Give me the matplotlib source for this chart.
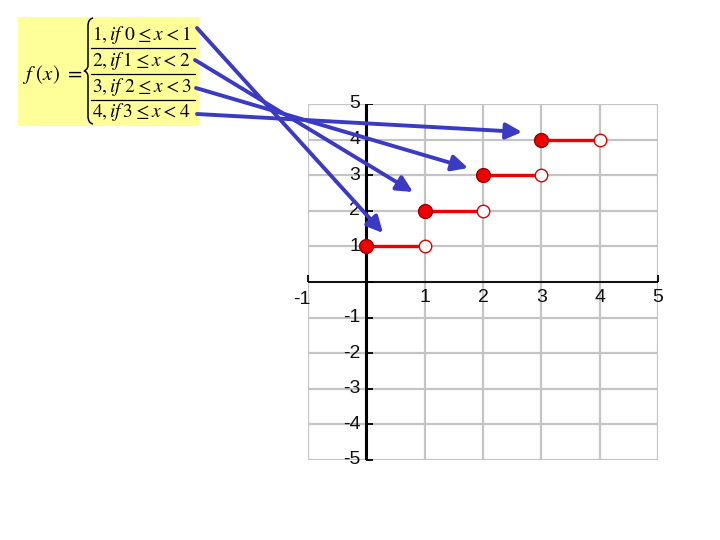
import matplotlib
matplotlib.use("Agg")
from matplotlib import pyplot as plt
from matplotlib.patches import Rectangle, FancyArrowPatch, PathPatch
from matplotlib.path import Path
from matplotlib.lines import Line2D
from matplotlib.transforms import IdentityTransform, offset_copy

plt.rcParams["mathtext.fontset"] = "stix"

# step function f(x) = k for k-1 <= x < k
step_start = [0, 1, 2, 3]
step_end = [1, 2, 3, 4]
step_value = [1, 2, 3, 4]

x_ticks = [-1, 1, 2, 3, 4, 5]
y_ticks = [5, 4, 3, 2, 1, -1, -2, -3, -4, -5]

formula_rows = [
    r"$1, \mathit{if}\ 0 \leq x < 1$",
    r"$2, \mathit{if}\,1 \leq x < 2$",
    r"$3, \mathit{if}\ 2 \leq x < 3$",
    r"$4, \mathit{if}\,3 \leq x < 4$",
]

W, H = 720, 540
fig = plt.figure(figsize=(7.2, 5.4), dpi=100)
px = IdentityTransform()


def fy(y):
    # image row -> figure pixel y
    return H - y


# ==========================================================
# grafico
# ==========================================================
ax = fig.add_axes([308 / W, (H - 460) / H, 350 / W, 356 / H])
ax.set_xlim(-1, 5)
ax.set_ylim(-5, 5)
for s in ax.spines.values():
    s.set_visible(False)
ax.set_xticks(range(-1, 6))
ax.set_yticks(range(-5, 6))
ax.tick_params(length=0, labelbottom=False, labelleft=False)
ax.grid(color="#c4c4c4", linewidth=1.6)
ax.set_axisbelow(True)

ax.axhline(0, color="black", linewidth=1.3, zorder=2)
ax.axvline(0, color="black", linewidth=2.2, zorder=2)
ax.plot([0] * 11, range(-5, 6), linestyle="none", marker=1, markersize=5,
        color="black", markeredgewidth=1.3, zorder=2)
ax.plot([-1, 5], [0, 0], linestyle="none", marker=2, markersize=5,
        color="black", markeredgewidth=1.3, zorder=2, clip_on=False)

tfont = dict(family="Liberation Sans", fontsize=14, color="#111111")
tr_x = offset_copy(ax.transData, fig=fig, x=0, y=-16, units="dots")
for xv in x_ticks:
    dx = -6 if xv == -1 else 0
    ax.text(xv, 0, str(xv), ha="center", va="center", zorder=1,
            transform=offset_copy(tr_x, fig=fig, x=dx, y=-1 if xv == -1 else 0, units="dots"),
            **tfont)
tr_y = offset_copy(ax.transData, fig=fig, x=-6, y=0, units="dots")
for yv in y_ticks:
    ax.text(0, yv, str(yv), ha="right", va="center", transform=tr_y, zorder=1, **tfont)

for x0, x1, v in zip(step_start, step_end, step_value):
    ax.plot([x0, x1], [v, v], color="#ee0000", linewidth=2.4, zorder=3,
            solid_capstyle="butt")
    ax.plot([x1], [v], linestyle="none", marker="o", markersize=9,
            markerfacecolor="white", markeredgecolor="#dd0000",
            markeredgewidth=1.0, zorder=4, clip_on=False)
    ax.plot([x0], [v], linestyle="none", marker="o", markersize=10,
            markerfacecolor="#ee0000", markeredgecolor="#990000",
            markeredgewidth=1.0, zorder=5, clip_on=False)

# ==========================================================
# riquadro con la formula
# ==========================================================
fig.add_artist(Rectangle((18, fy(126)), 181, 109, transform=px,
                         facecolor="#ffff99", edgecolor="none", zorder=0))

fig.text(22 / W, fy(75) / H, r"$f\ (x)\ =$", fontsize=15, ha="left", va="center")

bx, top, bot = 88, 18, 124
mid = (top + bot) / 2
brace = Path(
    [(bx + 5, fy(top)), (bx, fy(top + 1)), (bx, fy(top + 8)),
     (bx, fy(mid - 6)),
     (bx, fy(mid - 1)), (bx - 4, fy(mid)), (bx - 4, fy(mid)),
     (bx, fy(mid + 1)), (bx, fy(mid + 6)),
     (bx, fy(bot - 8)),
     (bx, fy(bot - 1)), (bx + 5, fy(bot))],
    [Path.MOVETO, Path.CURVE3, Path.CURVE3,
     Path.LINETO,
     Path.CURVE4, Path.CURVE4, Path.CURVE4,
     Path.CURVE3, Path.CURVE3,
     Path.LINETO,
     Path.CURVE3, Path.CURVE3],
)
fig.add_artist(PathPatch(brace, transform=px, facecolor="none",
                         edgecolor="black", linewidth=1.1, zorder=2))

row_y = [35, 61, 87, 112]
for ry, txt in zip(row_y, formula_rows):
    fig.text(92 / W, fy(ry) / H, txt, fontsize=14, ha="left", va="center")
for ly in [48, 74, 100]:
    fig.add_artist(Line2D([91, 195], [fy(ly), fy(ly)], transform=px,
                          color="black", linewidth=0.9))

# ==========================================================
# frecce
# ==========================================================
arrow_from = [(197, 28), (195, 60), (196, 88), (197, 114)]
arrow_to = [(383, 233), (413, 192), (468, 168), (522, 132)]
for (x0, y0), (x1, y1) in zip(arrow_from, arrow_to):
    fig.add_artist(FancyArrowPatch((x0, fy(y0)), (x1, fy(y1)), transform=px,
                                   arrowstyle="-|>", mutation_scale=24,
                                   color="#3a3ac4", linewidth=2.8,
                                   shrinkA=0, shrinkB=0, zorder=6))

fig.savefig("out.png", dpi=100)
